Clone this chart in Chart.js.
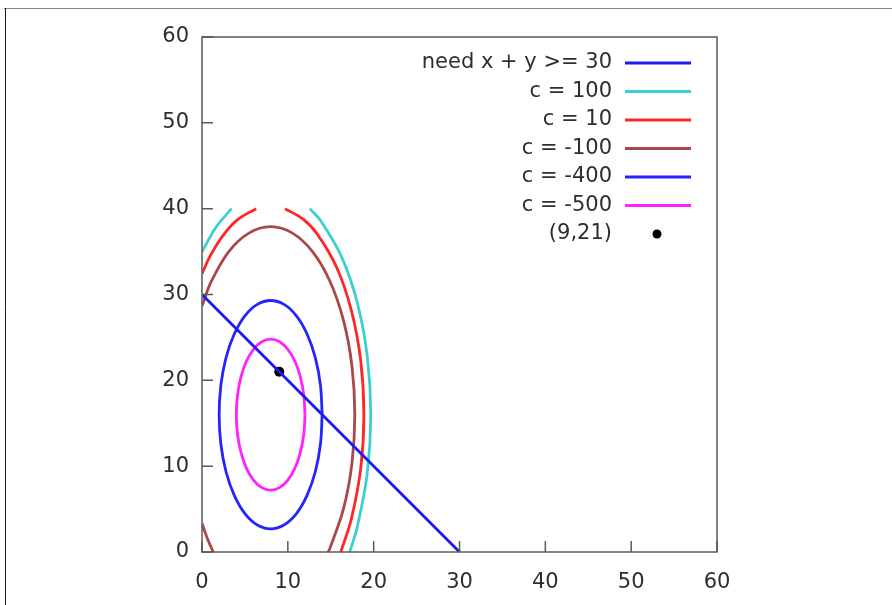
<!DOCTYPE html>
<html>
<head>
<meta charset="utf-8">
<script src="https://cdn.jsdelivr.net/npm/chart.js@4"></script>
<style>
  html, body { margin: 0; padding: 0; background: #fff; }
  #wrap { position: relative; width: 892px; height: 605px; }
</style>
</head>
<body>
<div id="wrap"><canvas id="chart-contour"></canvas></div>
<script>
// constraint line x + y = 30 and the chosen point
var needX = [0, 30];
var needY = [30, 0];
var pickX = [9];
var pickY = [21];

// contour pieces, [x, y] (clipped at y = 40)
var c100Left  = [[0,34.98],[1.65,37.87],[3.44,40]];
var c100Right = [[12.56,40],[13.83,38.59],[16.24,34.44],[18.1,29.04],[19.26,22.75],[19.66,16],[19.26,9.25],[18.1,2.96],[17.21,0]];
var c10Left   = [[0,32.42],[1.02,34.61],[2.57,37.04],[4.29,38.83],[6.32,40]];
var c10Right  = [[9.68,40],[11.71,38.83],[13.43,37.04],[15.68,33.17],[17.4,28.15],[18.49,22.29],[18.86,16],[18.49,9.71],[17.4,3.85],[16.17,0]];
var cm100Main = [[0,28.65],[1.07,31.49],[3.1,34.97],[5.46,37.15],[8,37.9],[10.54,37.15],[12.9,34.97],[14.93,31.49],[16.49,26.95],[17.47,21.67],[17.8,16],[17.47,10.33],[16.49,5.05],[14.93,0.51],[14.69,0]];
var cm100Low  = [[0,3.35],[0.6,1.63],[1.31,0]];
var cm400 = [[14,16],[13.8,19.45],[13.2,22.65],[12.24,25.4],[11,27.52],[9.55,28.85],[8,29.3],[6.45,28.85],[5,27.52],[3.76,25.4],[2.8,22.65],[2.2,19.45],[2,16],[2.2,12.55],[2.8,9.35],[3.76,6.6],[5,4.48],[6.45,3.15],[8,2.7],[9.55,3.15],[11,4.48],[12.24,6.6],[13.2,9.35],[13.8,12.55],[14,16]];
var cm500 = [[12,16],[11.86,18.28],[11.46,20.4],[10.83,22.22],[10,23.62],[9.04,24.5],[8,24.8],[6.96,24.5],[6,23.62],[5.17,22.22],[4.54,20.4],[4.14,18.28],[4,16],[4.14,13.72],[4.54,11.6],[5.17,9.78],[6,8.38],[6.96,7.5],[8,7.2],[9.04,7.5],[10,8.38],[10.83,9.78],[11.46,11.6],[11.86,13.72],[12,16]];

var axisTicks = [0, 10, 20, 30, 40, 50, 60];

var textColor = '#2e2e2e';
var frameColor = '#5a5a5a';

function pts(arr){
  return arr.map(function(p){ return {x: p[0], y: p[1]}; });
}
function zipXY(xs, ys){
  return xs.map(function(v, i){ return {x: v, y: ys[i]}; });
}
function curve(data, color, label){
  return {
    label: label,
    data: pts(data),
    showLine: true,
    borderColor: color,
    backgroundColor: color,
    borderWidth: 2.8,
    pointRadius: 0,
    tension: 0.35,
    fill: false
  };
}

var datasets = [
  {
    label: 'need x + y >= 30',
    data: zipXY(needX, needY),
    showLine: true,
    borderColor: '#1c1cf0',
    backgroundColor: '#1c1cf0',
    borderWidth: 2.8,
    pointRadius: 0,
    tension: 0
  },
  curve(c100Left, '#3ad0d0', 'c = 100'),
  curve(c100Right, '#3ad0d0'),
  curve(c10Left, '#ff2626', 'c = 10'),
  curve(c10Right, '#ff2626'),
  curve(cm100Main, '#a84848', 'c = -100'),
  curve(cm100Low, '#a84848'),
  curve(cm400, '#2424ff', 'c = -400'),
  curve(cm500, '#ff22ff', 'c = -500'),
  {
    label: '(9,21)',
    data: zipXY(pickX, pickY),
    showLine: false,
    borderColor: '#000',
    backgroundColor: '#000',
    pointRadius: 5,
    pointBorderWidth: 0
  }
];

// frame, inward ticks, page border and the key
var decor = {
  id: 'decor',
  afterDraw: function(chart){
    var c = chart.ctx, a = chart.chartArea;
    var sx = chart.scales.x, sy = chart.scales.y;
    c.save();
    // page border
    c.strokeStyle = '#8a8a8a';
    c.lineWidth = 1;
    c.beginPath();
    c.moveTo(4, 8.5); c.lineTo(892, 8.5);
    c.stroke();
    c.strokeStyle = '#1a1a1a';
    c.beginPath();
    c.moveTo(5.5, 8); c.lineTo(5.5, 605);
    c.stroke();
    // plot frame
    c.strokeStyle = frameColor;
    c.lineWidth = 1.5;
    c.strokeRect(a.left, a.top, a.right - a.left, a.bottom - a.top);
    c.beginPath();
    axisTicks.forEach(function(t){
      var px = sx.getPixelForValue(t);
      c.moveTo(px, a.bottom); c.lineTo(px, a.bottom - 11);
      var py = sy.getPixelForValue(t);
      c.moveTo(a.left, py); c.lineTo(a.left + 11, py);
    });
    c.stroke();
    // key
    var textRight = 612, lineL = 625, lineR = 691, rowY = 63, step = 28.5;
    c.font = '21px "DejaVu Sans"';
    c.textAlign = 'right';
    c.textBaseline = 'middle';
    chart.data.datasets.forEach(function(ds){
      if (!ds.label) return;
      c.fillStyle = textColor;
      c.fillText(ds.label, textRight, rowY);
      if (ds.showLine) {
        c.strokeStyle = ds.borderColor;
        c.lineWidth = 2.8;
        c.beginPath();
        c.moveTo(lineL, rowY); c.lineTo(lineR, rowY);
        c.stroke();
      } else {
        c.fillStyle = ds.backgroundColor;
        c.beginPath();
        c.arc(657, rowY, 4.5, 0, Math.PI * 2);
        c.fill();
      }
      rowY += step;
    });
    c.restore();
  }
};

var ctx = document.getElementById('chart-contour').getContext('2d');
new Chart(ctx, {
  type: 'scatter',
  data: { datasets: datasets },
  options: {
    responsive: true,
    maintainAspectRatio: false,
    animation: false,
    layout: { padding: { top: 37, right: 175, left: 0, bottom: 0 } },
    plugins: {
      legend: { display: false },
      tooltip: { enabled: false }
    },
    scales: {
      x: {
        type: 'linear',
        min: 0,
        max: 60,
        grid: { display: false, drawTicks: false },
        border: { display: false },
        afterFit: function(s){ s.height = 53; },
        ticks: {
          stepSize: 10,
          padding: 18,
          color: textColor,
          font: { family: 'DejaVu Sans', size: 21 }
        }
      },
      y: {
        type: 'linear',
        min: 0,
        max: 60,
        grid: { display: false, drawTicks: false },
        border: { display: false },
        afterFit: function(s){ s.width = 202; },
        ticks: {
          stepSize: 10,
          padding: 13,
          color: textColor,
          font: { family: 'DejaVu Sans', size: 21 }
        }
      }
    }
  },
  plugins: [decor]
});
</script>
</body>
</html>
